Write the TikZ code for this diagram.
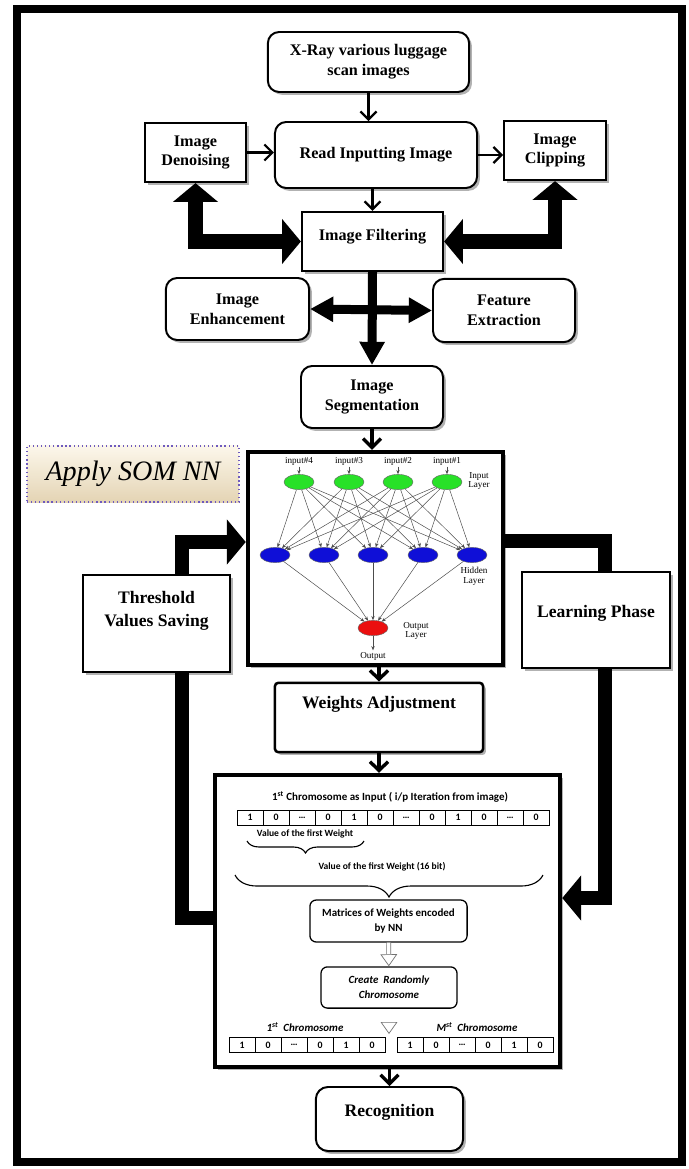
\documentclass[tikz,border=0pt]{standalone}
\usepackage{fontspec}
\setmainfont{Liberation Serif}
\newfontfamily\calib{Carlito}
\usetikzlibrary{positioning,calc,arrows.meta,shadows,shapes.geometric,decorations.pathreplacing}
\definecolor{somgreen}{RGB}{40,225,40}
\definecolor{somblue}{RGB}{15,15,215}
\definecolor{somred}{RGB}{235,15,15}
\definecolor{tanlight}{RGB}{252,247,235}
\definecolor{tandark}{RGB}{228,212,180}
\definecolor{dotpurple}{RGB}{110,90,190}
\pgfdeclarelayer{back}
\pgfsetlayers{back,main}

\begin{document}
\begin{tikzpicture}[x=0.025cm, y=-0.025cm,
  boxshadow/.style={drop shadow={shadow xshift=0.07cm, shadow yshift=-0.07cm, opacity=0.3, fill=black}},
  flowbox/.style={draw, line width=1.4pt, fill=white, align=center, inner sep=2pt, font=\fontsize{11.5}{14}\selectfont\bfseries, boxshadow},
  rbox/.style={flowbox, rounded corners=0.28cm},
  bigbox/.style={flowbox, line width=1.6pt, font=\fontsize{12.5}{16}\selectfont\bfseries},
  gbox/.style={draw, line width=0.9pt, fill=white, rounded corners=0.16cm, align=center, font=\calib\fontsize{7.8}{10.5}\selectfont\bfseries},
  bitcell/.style={draw, line width=0.5pt, minimum width=0.65cm, minimum height=0.37cm, inner sep=0pt, font=\calib\fontsize{7}{8}\selectfont\bfseries},
  calnote/.style={font=\calib\fontsize{6.8}{8}\selectfont\bfseries, inner sep=1pt},
  neuron/.style={ellipse, draw=black!60, line width=0.3pt, minimum width=0.75cm, minimum height=0.38cm, inner sep=0pt},
  netlabel/.style={font=\fontsize{6.5}{7}\selectfont, align=center, inner sep=1pt},
  netlink/.style={draw=black!70, line width=0.35pt, -{Stealth[length=3pt,width=2.4pt]}},
  thinarrow/.style={line width=1.6pt, -{Straight Barb[length=0.2cm,width=0.4cm]}},
  chevarrow/.style={line width=2.4pt, -{Straight Barb[length=0.22cm,width=0.45cm]}},
  fatbar/.style={line width=10.5pt},
  midbar/.style={line width=6.4pt},
  bigtip/.tip={Triangle[length=0.47cm,width=1.1cm]},
  midtip/.tip={Triangle[length=0.58cm,width=0.6cm]},
  hollow/.style={draw=black!55, line width=0.5pt, double=white, double distance=2.4pt, -{Triangle[open,length=0.3cm,width=0.42cm,fill=white]}}
]
\useasboundingbox (0,0) rectangle (689,1169);

% upper flow
\node[rbox, minimum width=5.03cm, minimum height=1.5cm] (xray) at (368.5,62) {X-Ray various luggage\\scan images};
\node[rbox, minimum width=5.05cm, minimum height=1.65cm] (read) at (376,155) {Read Inputting Image};
\node[flowbox, minimum width=2.53cm, minimum height=1.48cm] (denoise) at (195.5,152.5) {Image\\Denoising};
\node[flowbox, minimum width=2.55cm, minimum height=1.48cm] (clip) at (555,150.5) {Image\\Clipping};
\node[flowbox, minimum width=3.53cm, minimum height=1.48cm, text depth=9pt] (filter) at (372.5,241.5) {Image Filtering};
\node[rbox, minimum width=3.58cm, minimum height=1.55cm] (enhance) at (237.5,309) {Image\\Enhancement};
\node[rbox, minimum width=3.55cm, minimum height=1.58cm] (feature) at (504,310.5) {Feature\\Extraction};
\node[rbox, minimum width=3.55cm, minimum height=1.55cm] (segment) at (372,397) {Image\\Segmentation};

\draw[thinarrow] (xray.south) -- (xray.south |- read.north);
\draw[thinarrow] (denoise.east) -- (denoise.east -| read.west);
\draw[thinarrow] (read.east) -- (read.east -| clip.west);
\draw[thinarrow] (filter.north |- read.south) -- (filter.north);
\draw[midbar, -{midtip}] (filter.south) -- (segment.north);
\draw[midbar, {midtip}-{midtip}] (enhance.east) -- (feature.west);

% SOM network
\node[draw=dotpurple, dotted, line width=0.9pt, top color=tanlight, bottom color=tandark, minimum width=5.3cm, minimum height=1.4cm, font=\fontsize{20}{24}\selectfont\itshape] (som) at (133,474) {Apply SOM NN};
\node[draw, line width=3pt, fill=white, minimum width=6.38cm, minimum height=5.33cm, boxshadow] (net) at (375.5,558.5) {};

\foreach \n/\x in {4/299,3/349,2/398,1/447} {
  \node[neuron, fill=somgreen] (in\n) at (\x,482) {};
  \node[netlabel] (lab\n) at (\x,461) {input\#\n};
  \draw[netlink] (lab\n) -- (in\n);
}
\foreach \n/\x in {1/275,2/324,3/373,4/423,5/472}
  \node[neuron, fill=somblue] (hid\n) at (\x,555) {};
\node[neuron, fill=somred] (out) at (373,628) {};
\foreach \i in {1,...,4}
  \foreach \j in {1,...,5}
    \draw[netlink] (in\i) -- (hid\j);
\foreach \j in {1,...,5}
  \draw[netlink] (hid\j) -- (out);
\node[netlabel] (outlab) at (373,656) {Output};
\draw[netlink] (out) -- (outlab);
\node[netlabel] (inlayer) at (479,481) {Input\\Layer};
\node[netlabel] (hidlayer) at (474,576) {Hidden\\Layer};
\node[netlabel] (outlayer) at (416,631) {Output\\Layer};

\node[bigbox, minimum width=3.68cm, minimum height=2.43cm] (thresh) at (156.5,623.5) {Threshold\\Values Saving\\[5pt]};
\node[bigbox, minimum width=3.7cm, minimum height=2.4cm, text depth=12.4pt] (learn) at (596,620) {Learning Phase};
\node[bigbox, line width=1.8pt, rounded corners=0.08cm, minimum width=5.2cm, minimum height=1.73cm, text depth=21.6pt] (weights) at (379,717.5) {Weights Adjustment};

% chromosome panel
\node[draw, line width=3pt, fill=white, minimum width=8.63cm, minimum height=7.3cm, boxshadow] (chrom) at (387.5,921) {};
\node[calnote, font=\calib\fontsize{7.8}{9}\selectfont\bfseries] (ctitle) at (390,797) {1\textsuperscript{st} Chromosome as Input ( i/p Iteration from image)};
\foreach \v [count=\i] in {1,0,\ldots,0,1,0,\ldots,0,1,0,\ldots,0}
  \node[bitcell] (a\i) at ({250+26*(\i-1)},817.5) {\v};
\node[calnote] (firstw) at (305,834) {Value of the first Weight};
\draw[decorate, decoration={brace, mirror, amplitude=0.3cm}, line width=0.8pt] (247,841) -- (364,841);
\node[calnote] (fullw) at (382,867) {Value of the first Weight (16 bit)};
\draw[decorate, decoration={brace, mirror, amplitude=0.55cm}, line width=0.8pt] (235,875) -- (543,875);
\node[gbox, minimum width=3.93cm, minimum height=1.05cm] (mat) at (388.5,921) {Matrices of Weights encoded\\by NN};
\node[gbox, minimum width=3.4cm, minimum height=1.03cm, font=\calib\fontsize{7.8}{10.5}\selectfont\bfseries\itshape] (crt) at (389,987.5) {Create \ Randomly\\Chromosome};
\coordinate (split) at (389,1034);
\draw[hollow] (mat) -- (crt);
\draw[hollow] (crt) -- (split);
\node[calnote, font=\calib\fontsize{7.8}{9}\selectfont\bfseries\itshape] (firstc) at (305,1027) {1\textsuperscript{st} \ Chromosome};
\node[calnote, font=\calib\fontsize{7.8}{9}\selectfont\bfseries\itshape] (lastc) at (477,1027) {M\textsuperscript{st} \ Chromosome};
\foreach \v [count=\i] in {1,0,\ldots,0,1,0} {
  \node[bitcell] (b\i) at ({242+26*(\i-1)},1045) {\v};
  \node[bitcell] (c\i) at ({410+26*(\i-1)},1045) {\v};
}

\node[rbox, font=\fontsize{12.5}{16}\selectfont\bfseries, rounded corners=0.3cm, minimum width=3.68cm, minimum height=1.6cm, text depth=12.4pt] (recog) at (389.5,1119) {Recognition};

\draw[chevarrow] (segment.south) -- (segment.south |- net.north);
\draw[chevarrow] (weights.north |- net.south) -- (weights.north);
\draw[chevarrow] (weights.south) -- (weights.south |- chrom.north);
\draw[chevarrow] (recog.north |- chrom.south) -- (recog.north);

% frame and heavy feedback bars
\coordinate (lbend) at (182,542);
\coordinate (llow) at (182,918);
\coordinate (rtop) at (605,541);
\coordinate (rlow) at (605,898);
\begin{pgfonlayer}{back}
\draw[line width=5.7pt, fill=white, boxshadow] (17,9) rectangle (682,1162);
\draw[fatbar, {bigtip}-{bigtip}] (denoise.south) |- (filter.west);
\draw[fatbar, {bigtip}-{bigtip}] (clip.south) |- (filter.east);
\draw[fatbar, -{bigtip}] (llow -| chrom.west) -- (llow) -- (lbend) -- (lbend -| net.west);
\draw[fatbar, -{bigtip}] (rtop -| net.east) -- (rtop) -- (rlow) -- (rlow -| chrom.east);
\end{pgfonlayer}

\end{tikzpicture}
\end{document}
